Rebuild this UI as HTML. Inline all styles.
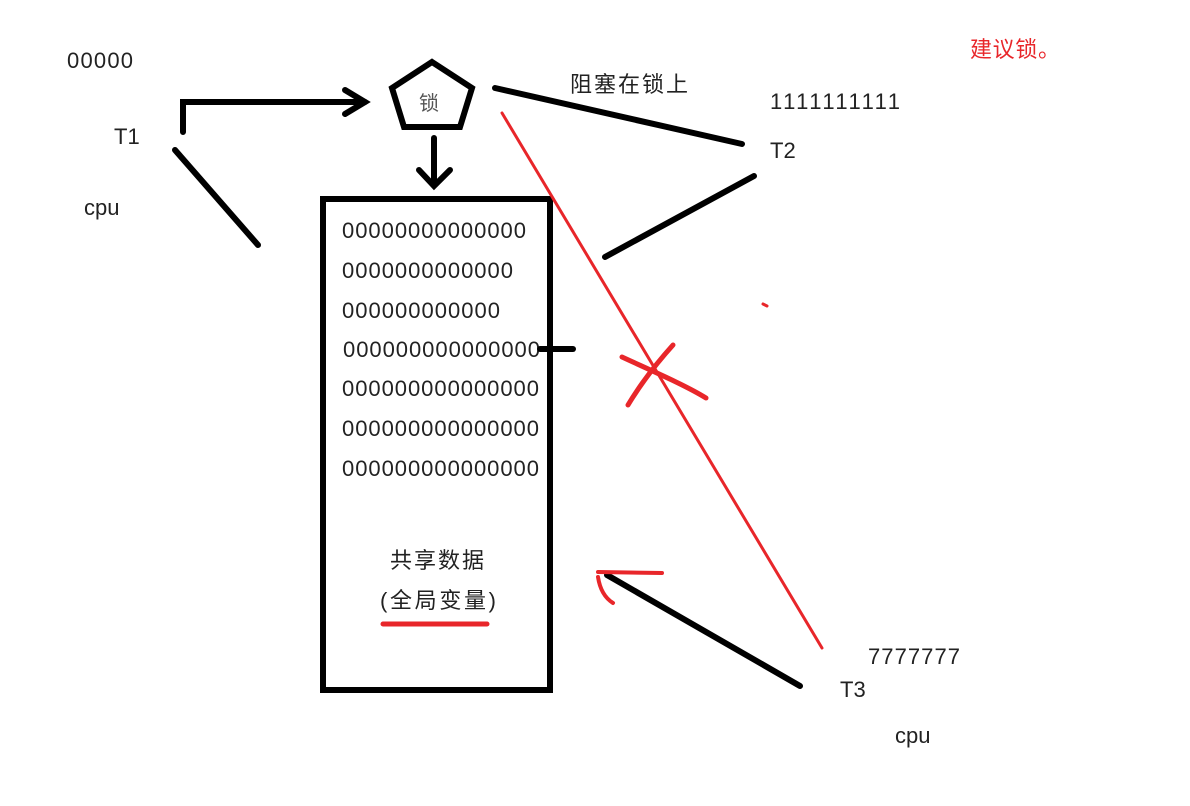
<!DOCTYPE html>
<html><head><meta charset="utf-8"><style>
body{margin:0;background:#fff;}
svg{display:block}
text{font-family:"Liberation Sans","Noto Sans CJK SC",sans-serif;fill:#222;}
</style></head><body>
<svg width="1190" height="806" viewBox="0 0 1190 806" xmlns="http://www.w3.org/2000/svg">
<rect width="1190" height="806" fill="#fff"/>
<g font-size="22">
<text x="67" y="68" textLength="66">00000</text>
<text x="114" y="144">T1</text>
<text x="84" y="215">cpu</text>
<text x="570" y="92" font-size="22" textLength="118">阻塞在锁上</text>
<text x="770" y="109" textLength="130">1111111111</text>
<text x="770" y="158">T2</text>
<text x="868" y="664" textLength="92">7777777</text>
<text x="840" y="697">T3</text>
<text x="895" y="743">cpu</text>
<text x="970" y="57" font-size="22" textLength="90" style="fill:#e8262a">建议锁。</text>
<text x="419" y="110" font-size="20" style="fill:#555">锁</text>
<text x="342" y="238" textLength="184">00000000000000</text>
<text x="342" y="278" textLength="171">0000000000000</text>
<text x="342" y="318" textLength="158">000000000000</text>
<text x="343" y="357" textLength="197">000000000000000</text>
<text x="342" y="396" textLength="197">000000000000000</text>
<text x="342" y="436" textLength="197">000000000000000</text>
<text x="342" y="476" textLength="197">000000000000000</text>
<text x="390" y="568" font-size="22" textLength="94">共享数据</text>
<text x="380" y="608" font-size="22" textLength="116">(全局变量)</text>
</g>
<g stroke="#000" stroke-width="6" fill="none" stroke-linecap="round">
<rect x="323" y="199" width="227" height="491"/>
<polygon points="432,62 472,88 460,127 404,127 392,88" stroke-linejoin="miter"/>
<polyline points="183,132 183,102 365,102"/>
<polyline points="345,90 365,102 345,114"/>
<line x1="434" y1="138" x2="434" y2="185"/>
<polyline points="419,170 434,186 450,170"/>
<line x1="175" y1="150" x2="258" y2="245"/>
<line x1="495" y1="88" x2="742" y2="144"/>
<line x1="754" y1="176" x2="605" y2="257"/>
<line x1="540" y1="349" x2="573" y2="349"/>
<line x1="800" y1="686" x2="607" y2="575"/>
</g>
<g stroke="#e8262a" fill="none" stroke-linecap="round">
<line x1="502" y1="113" x2="822" y2="648" stroke-width="3"/>
<path d="M673 345 C655 365 640 385 628 405" stroke-width="5"/>
<path d="M622 357 C650 370 685 385 706 398" stroke-width="5"/>
<line x1="598" y1="572" x2="662" y2="573" stroke-width="4"/>
<path d="M598 577 C600 590 605 598 613 603" stroke-width="4"/>
<line x1="383" y1="624" x2="487" y2="624" stroke-width="5"/>
<line x1="763" y1="304" x2="767" y2="306" stroke-width="3"/>
</g>
</svg>
</body></html>
